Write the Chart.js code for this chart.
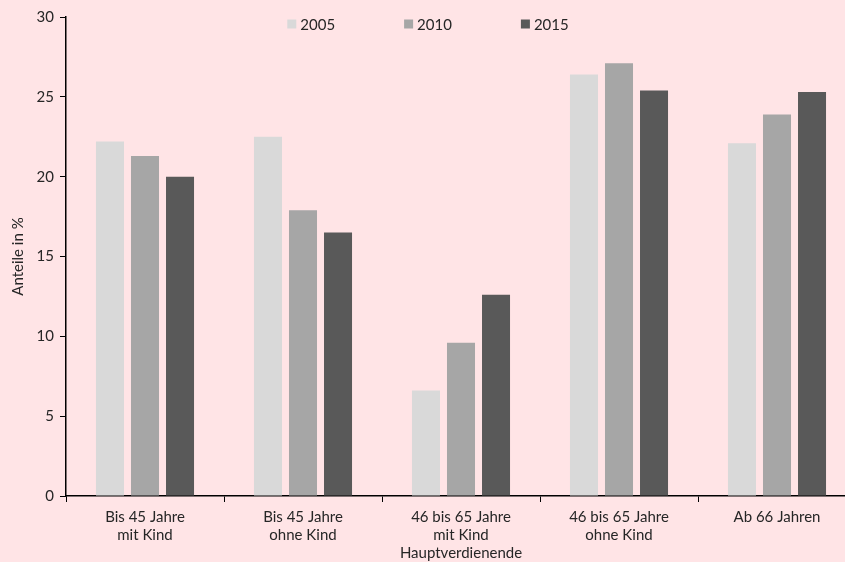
<!DOCTYPE html>
<html>
<head>
<meta charset="utf-8">
<script src="https://cdn.jsdelivr.net/npm/chart.js@4"></script>
<style>
  html, body { margin: 0; padding: 0; background: #ffe4e6; overflow: hidden; }
  #wrap { width: 856px; height: 562px; }
</style>
</head>
<body>
<div id="wrap"><canvas id="myChart" width="856" height="562"></canvas></div>
<script>
// chart data
const categories = [
  ["Bis 45 Jahre", "mit Kind"],
  ["Bis 45 Jahre", "ohne Kind"],
  ["46 bis 65 Jahre", "mit Kind", "Hauptverdienende"],
  ["46 bis 65 Jahre", "ohne Kind"],
  ["Ab 66 Jahren"]
];
const years = ["2005", "2010", "2015"];
const values2005 = [22.2, 22.5, 6.6, 26.4, 22.1];
const values2010 = [21.3, 17.9, 9.6, 27.1, 23.9];
const values2015 = [20.0, 16.5, 12.6, 25.4, 25.3];
const yTicks = [0, 5, 10, 15, 20, 25, 30];

const colors = ["#d9d9d9", "#a6a6a6", "#595959"];
const fontFamily = "Lato, 'DejaVu Sans', sans-serif";

// legend drawn at the top, overlapping the plot area
const topLegend = {
  id: "topLegend",
  afterDraw(chart) {
    const ctx = chart.ctx;
    ctx.save();
    ctx.font = "15px " + fontFamily;
    ctx.textBaseline = "middle";
    ctx.fillStyle = "#262626";
    const box = 9, gap = 4, spacing = 69;
    const items = chart.data.datasets.map(ds => ({
      label: ds.label, color: ds.backgroundColor, w: box + gap + ctx.measureText(ds.label).width
    }));
    let total = items.reduce((s, it) => s + it.w, 0) + spacing * (items.length - 1);
    let x = chart.width / 2 - total / 2;
    const y = 24;
    items.forEach(it => {
      ctx.fillStyle = it.color;
      ctx.fillRect(x, y - box / 2, box, box);
      ctx.fillStyle = "#262626";
      ctx.fillText(it.label, x + box + gap, y + 1);
      x += it.w + spacing;
    });
    ctx.restore();
  }
};

const ctx = document.getElementById("myChart").getContext("2d");
const myChart = new Chart(ctx, {
  type: "bar",
  data: {
    labels: categories,
    datasets: [
      { label: years[0], data: values2005, backgroundColor: colors[0] },
      { label: years[1], data: values2010, backgroundColor: colors[1] },
      { label: years[2], data: values2015, backgroundColor: colors[2] }
    ]
  },
  options: {
    responsive: false,
    animation: false,
    layout: { padding: { top: 17, right: 0, left: 0, bottom: 0 } },
    datasets: { bar: { categoryPercentage: 0.665, barPercentage: 0.8 } },
    plugins: {
      legend: { display: false },
      tooltip: { enabled: false }
    },
    scales: {
      x: {
        grid: { offset: true, drawOnChartArea: false, drawTicks: true, tickLength: 6, color: "#000" },
        border: { color: "#000", width: 1.5 },
        ticks: { color: "#262626", font: { family: fontFamily, size: 15 }, padding: 6, maxRotation: 0 },
        afterFit(scale) { scale.height = 66; }
      },
      y: {
        min: 0,
        max: 30,
        afterBuildTicks(scale) { scale.ticks = yTicks.map(v => ({ value: v })); },
        grid: { drawOnChartArea: false, drawTicks: true, tickLength: 6, color: "#000" },
        border: { color: "#000", width: 1.5 },
        ticks: { color: "#262626", font: { family: fontFamily, size: 15 }, padding: 6 },
        title: { display: true, text: "Anteile in %", color: "#262626", font: { family: fontFamily, size: 15 }, padding: { top: 9, bottom: 0 } },
        afterFit(scale) { scale.width = 66; }
      }
    }
  },
  plugins: [topLegend]
});
</script>
</body>
</html>
